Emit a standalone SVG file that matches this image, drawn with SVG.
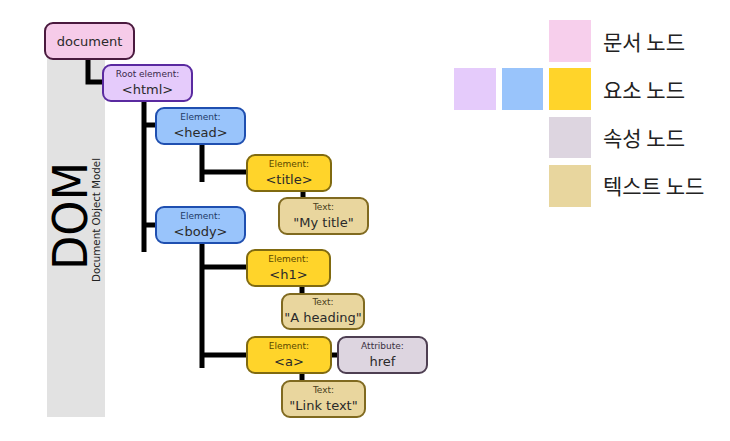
<svg xmlns="http://www.w3.org/2000/svg" width="730" height="441" viewBox="0 0 730 441">
<style>
.box{stroke-width:2}
.doc{fill:#f6cbe9;stroke:#4a1a3e}
.root{fill:#e5cbfb;stroke:#5a2aa0}
.blue{fill:#99c4fb;stroke:#1f4fb0}
.yel{fill:#ffd42a;stroke:#806a10}
.txt{fill:#e9d69e;stroke:#806a20}
.attr{fill:#ddd5e0;stroke:#4e3f52}
.lbl{font-family:"DejaVu Sans","Liberation Sans",sans-serif;font-size:9px;text-anchor:middle}
.main{font-family:"DejaVu Sans","Liberation Sans",sans-serif;font-size:13px;text-anchor:middle;fill:#2a2a2a}
.lb-root{fill:#3a2a4a}
.lb-blue{fill:#1e3a66}
.lb-yel{fill:#5a4800}
.lb-txt{fill:#4a4020}
.lb-attr{fill:#3a3040}
.con{fill:none;stroke:#000;stroke-width:5;stroke-linejoin:miter}
.leg{font-family:"Noto Sans CJK KR","Noto Sans",sans-serif;font-size:21px;fill:#222}
</style>
<rect x="0" y="0" width="730" height="441" fill="#fff"/>
<rect x="47" y="55" width="58" height="362" fill="#e2e2e2"/>
<text transform="translate(87,270) rotate(-90)" font-family="DejaVu Sans,Liberation Sans,sans-serif" font-size="48" textLength="108" lengthAdjust="spacingAndGlyphs" fill="#000">DOM</text>
<text transform="translate(99.5,282) rotate(-90)" font-family="DejaVu Sans,Liberation Sans,sans-serif" font-size="10" textLength="124" lengthAdjust="spacingAndGlyphs" fill="#222">Document Object Model</text>
<g id="connectors">
<path class="con" d="M88 59 V82 H103"/>
<path class="con" d="M144 101 V252"/>
<path class="con" d="M144 125 H156"/>
<path class="con" d="M144 225 H156"/>
<path class="con" d="M202 144 V182"/>
<path class="con" d="M202 172 H247"/>
<path class="con" d="M303 191 V198"/>
<path class="con" d="M202 243 V368"/>
<path class="con" d="M202 267 H247"/>
<path class="con" d="M202 355 H247"/>
<path class="con" d="M302 286 V294"/>
<path class="con" d="M331 355 H338"/>
<path class="con" d="M302 373 V381"/>
</g>
<g id="document"><rect class="box doc" x="45" y="23" width="89" height="36" rx="8"/><text class="main" x="89.5" y="46">document</text></g>
<g id="html"><rect class="box root" x="103" y="65" width="89" height="36" rx="8"/><text class="lbl lb-root" x="147.5" y="76.5">Root element:</text><text class="main" x="147.5" y="94">&lt;html&gt;</text></g>
<g id="head"><rect class="box blue" x="156" y="108" width="89" height="36" rx="8"/><text class="lbl lb-blue" x="200.5" y="119.5">Element:</text><text class="main" x="200.5" y="137">&lt;head&gt;</text></g>
<g id="title"><rect class="box yel" x="247" y="155" width="84" height="36" rx="8"/><text class="lbl lb-yel" x="289" y="166.5">Element:</text><text class="main" x="289" y="184">&lt;title&gt;</text></g>
<g id="mytitle"><rect class="box txt" x="279" y="198" width="89" height="36" rx="8"/><text class="lbl lb-txt" x="323.5" y="209.5">Text:</text><text class="main" x="323.5" y="227">"My title"</text></g>
<g id="body"><rect class="box blue" x="156" y="207" width="89" height="36" rx="8"/><text class="lbl lb-blue" x="200.5" y="218.5">Element:</text><text class="main" x="200.5" y="236">&lt;body&gt;</text></g>
<g id="h1"><rect class="box yel" x="247" y="250" width="83" height="36" rx="8"/><text class="lbl lb-yel" x="288.5" y="261.5">Element:</text><text class="main" x="288.5" y="279">&lt;h1&gt;</text></g>
<g id="aheading"><rect class="box txt" x="282" y="294" width="82" height="35" rx="8"/><text class="lbl lb-txt" x="323" y="305">Text:</text><text class="main" x="323" y="322">"A heading"</text></g>
<g id="a"><rect class="box yel" x="247" y="337" width="84" height="36" rx="8"/><text class="lbl lb-yel" x="289" y="348.5">Element:</text><text class="main" x="289" y="366">&lt;a&gt;</text></g>
<g id="href"><rect class="box attr" x="338" y="337" width="89" height="36" rx="8"/><text class="lbl lb-attr" x="382.5" y="348.5">Attribute:</text><text class="main" x="382.5" y="366">href</text></g>
<g id="linktext"><rect class="box txt" x="282" y="381" width="83" height="36" rx="8"/><text class="lbl lb-txt" x="323.5" y="392.5">Text:</text><text class="main" x="323.5" y="410">"Link text"</text></g>
<g id="legend">
<rect x="549" y="20" width="42" height="42" fill="#f7cfec"/>
<rect x="454" y="68" width="42" height="42" fill="#e5cbfb"/>
<rect x="502" y="68" width="41" height="42" fill="#99c4fb"/>
<rect x="549" y="68" width="42" height="42" fill="#ffd42a"/>
<rect x="549" y="117" width="42" height="41" fill="#ddd5e0"/>
<rect x="549" y="165" width="42" height="42" fill="#e8d69e"/>
<text class="leg" x="603" y="50">문서 노드</text>
<text class="leg" x="603" y="98">요소 노드</text>
<text class="leg" x="603" y="146">속성 노드</text>
<text class="leg" x="603" y="194">텍스트 노드</text>
</g>
</svg>
